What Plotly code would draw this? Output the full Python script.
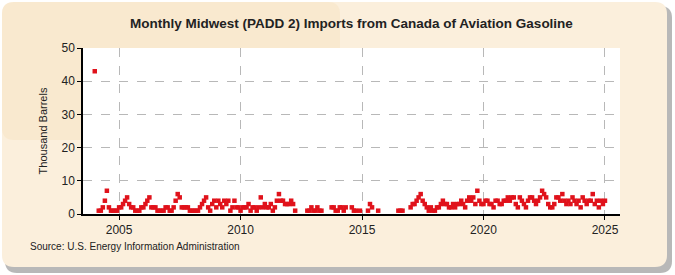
import plotly.graph_objects as go

# Monthly values (thousand barrels), Jan..Dec; None = no data
values_2004 = [43, None, 1, 1, 2, 4, 7, 2, 1, 1, 1, 1]
values_2005 = [2, 2, 3, 4, 5, 3, 2, 2, 1, 1, 1, 2]
values_2006 = [2, 3, 4, 5, 2, 2, 2, 1, 1, 1, 1, 2]
values_2007 = [2, 1, 1, 2, 4, 6, 5, 2, 2, 2, 2, 1]
values_2008 = [1, 1, 1, 1, 2, 3, 4, 5, 2, 1, 3, 4]
values_2009 = [2, 4, 3, 2, 4, 3, 4, 1, 2, 4, 2, 2]
values_2010 = [1, 2, 2, 2, 3, 1, 2, 2, 1, 2, 5, 2]
values_2011 = [3, 2, 2, 3, 1, 2, 4, 6, 4, 4, 3, 3]
values_2012 = [3, 4, 3, 1, None, None, None, None, None, 1, 1, 2]
values_2013 = [1, 1, 2, 1, 1, None, None, None, None, 2, 2, 1]
values_2014 = [1, 2, 2, 1, 2, None, None, 2, 1, 1, None, 1]
values_2015 = [None, None, None, 1, 3, 2, None, None, 1, None, None, None]
values_2016 = [None, None, None, None, None, None, 1, 1, 1, None, None, None]
values_2017 = [2, 3, 3, 4, 5, 6, 4, 3, 2, 1, 2, 1]
values_2018 = [1, 2, 2, 3, 4, 3, 3, 2, 2, 3, 2, 3]
values_2019 = [3, 4, 3, 2, 4, 5, 4, 5, 3, 7, 4, 3]
values_2020 = [3, 4, 4, 3, 3, 2, 4, 4, 3, 3, 4, 4]
values_2021 = [5, 4, 5, 5, 3, 2, 5, 4, 3, 2, 4, 5]
values_2022 = [5, 4, 3, 4, 5, 7, 6, 5, 3, 2, 2, 3]
values_2023 = [5, 5, 4, 6, 4, 3, 4, 3, 5, 4, 3, 4]
values_2024 = [2, 5, 4, 3, 4, 4, 6, 3, 4, 2, 4, 3]
values_2025 = [4]

years = list(range(2004, 2026))
yearly = [values_2004, values_2005, values_2006, values_2007, values_2008,
          values_2009, values_2010, values_2011, values_2012, values_2013,
          values_2014, values_2015, values_2016, values_2017, values_2018,
          values_2019, values_2020, values_2021, values_2022, values_2023,
          values_2024, values_2025]

dates, vals = [], []
for yr, lst in zip(years, yearly):
    for m, v in enumerate(lst, start=1):
        if v is not None:
            dates.append(f"{yr}-{m:02d}-01")
            vals.append(v)

tick_years = [2005, 2010, 2015, 2020, 2025]
tick_vals = [f"{y}-01-01" for y in tick_years]
tick_text = [str(y) for y in tick_years]

fig = go.Figure()
fig.add_trace(go.Scatter(
    x=dates, y=vals, mode="markers",
    marker=dict(symbol="square", size=4.5, color="#e0121b", line=dict(width=0)),
    hoverinfo="x+y", showlegend=False,
))

W, H = 675, 275
L, R, T, B = 83, 55, 48, 61
pw, ph = W - L - R, H - T - B

def px2paper(x, y):
    return (x - L) / pw, (H - B - y) / ph

def path_paper(x0, y0, x1, y1, r):
    def P(x, y):
        a, b = px2paper(x, y)
        return f"{a:.5f},{b:.5f}"
    return (f"M{P(x0+r,y0)} L{P(x1-r,y0)} Q{P(x1,y0)} {P(x1,y0+r)} L{P(x1,y1-r)} "
            f"Q{P(x1,y1)} {P(x1-r,y1)} L{P(x0+r,y1)} Q{P(x0,y1)} {P(x0,y1-r)} "
            f"L{P(x0,y0+r)} Q{P(x0,y0)} {P(x0+r,y0)} Z")

shapes = [
    dict(type="path", xref="paper", yref="paper", layer="below",
         path=path_paper(5, 6, 672, 273, 12), fillcolor="#b8b8b8", line=dict(width=0)),
    dict(type="path", xref="paper", yref="paper", layer="below",
         path=path_paper(2, 2, 667, 267, 12), fillcolor="#fbefdc", line=dict(width=0)),
    dict(type="path", xref="paper", yref="paper", layer="below",
         path=path_paper(2, 2, 340, 140, 12), fillcolor="#f6dfb8", opacity=0.35, line=dict(width=0)),
    dict(type="rect", xref="paper", yref="paper", layer="below",
         x0=0, y0=0, x1=1, y1=1, fillcolor="white", line=dict(width=0)),
]

fig.update_layout(
    width=W, height=H,
    margin=dict(l=L, r=R, t=T, b=B),
    paper_bgcolor="white", plot_bgcolor="rgba(0,0,0,0)",
    shapes=shapes,
    title=dict(text="<b>Monthly Midwest (PADD 2) Imports from Canada of Aviation Gasoline</b>",
               x=0.5, xref="paper", xanchor="center", y=1 - 23 / H, yanchor="middle",
               font=dict(family="Liberation Sans, Arial", size=13.5, color="#222222")),
    font=dict(family="Liberation Sans, Arial", color="#222222"),
    xaxis=dict(type="date", range=["2003-07-08", "2025-08-15"],
               tickvals=tick_vals, ticktext=tick_text, tickangle=0,
               showgrid=True, gridcolor="#b8b8b8", griddash="dash", gridwidth=1,
               showline=True, linecolor="black", linewidth=1.5,
               ticks="outside", ticklen=4, tickcolor="black",
               tickfont=dict(size=12, color="#222222"), zeroline=False),
    yaxis=dict(range=[0, 50], tickvals=[0, 10, 20, 30, 40, 50],
               showgrid=True, gridcolor="#b8b8b8", griddash="dash", gridwidth=1,
               showline=True, linecolor="black", linewidth=1.5,
               ticks="outside", ticklen=4, tickcolor="black",
               tickfont=dict(size=12, color="#222222"), zeroline=False,
               title=dict(text="Thousand Barrels", font=dict(size=11, color="#222222"), standoff=12)),
    annotations=[dict(text="Source: U.S. Energy Information Administration",
                      xref="paper", yref="paper", x=(28 - L) / pw, y=(H - B - 246) / ph,
                      xanchor="left", yanchor="middle", showarrow=False,
                      font=dict(size=10, color="#222222", family="Liberation Sans, Arial"))],
)

fig.write_html("out.html")
